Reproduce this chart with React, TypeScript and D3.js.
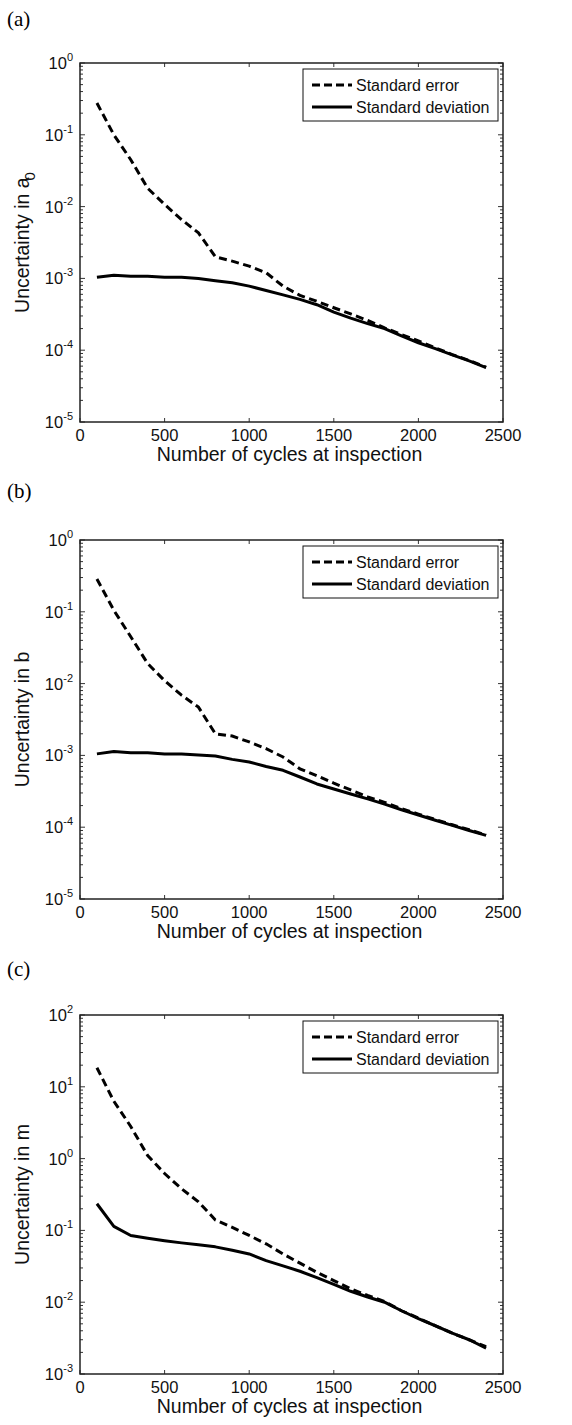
import { useEffect, useRef } from 'react';
import * as d3 from 'd3';

// Inspection cycles (shared by every panel)
const cycles = [
  100, 200, 300, 400, 500, 600, 700, 800, 900, 1000, 1100, 1200,
  1300, 1400, 1500, 1600, 1700, 1800, 1900, 2000, 2100, 2200, 2300, 2400,
];

// (a) uncertainty in a0
const errA0 = [
  0.277, 0.1, 0.045, 0.018, 0.0107, 0.0066, 0.0043, 0.002, 0.00174, 0.00148, 0.0012, 0.00078,
  0.00058, 0.00048, 0.00039, 0.00032, 0.00026, 0.000205, 0.000165, 0.000135, 0.000108, 0.000087, 0.000072, 0.000058,
];
const devA0 = [
  0.00104, 0.00111, 0.00107, 0.00107, 0.00104, 0.00104, 0.001, 0.00093, 0.00087, 0.00078, 0.00068, 0.00059,
  0.00051, 0.00043, 0.00034, 0.00028, 0.000235, 0.0002, 0.000158, 0.000127, 0.000105, 0.000086, 0.000071, 0.000057,
];

// (b) uncertainty in b
const errB = [
  0.286, 0.105, 0.045, 0.019, 0.011, 0.0069, 0.0047, 0.002, 0.00186, 0.00154, 0.00124, 0.00095,
  0.00065, 0.00052, 0.00041, 0.00033, 0.000265, 0.000222, 0.000182, 0.000152, 0.000128, 0.000108, 0.000092, 0.000078,
];
const devB = [
  0.00105, 0.00113, 0.00109, 0.00109, 0.00105, 0.00105, 0.00101, 0.00098, 0.00088, 0.00081, 0.0007, 0.00062,
  0.0005, 0.0004, 0.00034, 0.00029, 0.000248, 0.00021, 0.000175, 0.000148, 0.000125, 0.000106, 0.00009, 0.000077,
];

// (c) uncertainty in m
const errM = [
  18.4, 6.3, 2.8, 1.1, 0.62, 0.38, 0.25, 0.14, 0.11, 0.085, 0.065, 0.047,
  0.035, 0.026, 0.02, 0.0154, 0.0124, 0.0102, 0.0076, 0.006, 0.0047, 0.0037, 0.003, 0.0024,
];
const devM = [
  0.235, 0.114, 0.085, 0.078, 0.072, 0.067, 0.063, 0.059, 0.053, 0.047, 0.038, 0.032,
  0.027, 0.022, 0.0177, 0.0142, 0.0118, 0.01, 0.0076, 0.0059, 0.0047, 0.0037, 0.003, 0.0023,
];

const xTicks = [0, 500, 1000, 1500, 2000, 2500];
const legendLabels = ['Standard error', 'Standard deviation'];

const panels = [
  { tag: '(a)', top: 63, tagY: 26, symbol: 'a', sub: '0', yMin: -5, yMax: 0, err: errA0, dev: devA0 },
  { tag: '(b)', top: 540, tagY: 498, symbol: 'b', sub: '', yMin: -5, yMax: 0, err: errB, dev: devB },
  { tag: '(c)', top: 1015, tagY: 976, symbol: 'm', sub: '', yMin: -3, yMax: 2, err: errM, dev: devM },
];

const WIDTH = 572;
const HEIGHT = 1425;
const left = 80;
const right = 503;
const plotH = 359;
const sans = '"Liberation Sans", Arial, sans-serif';
const serif = '"Liberation Serif", "Times New Roman", serif';

export default function App() {
  const svgRef = useRef<SVGSVGElement>(null);

  useEffect(() => {
    if (!svgRef.current) return;
    const svg = d3.select(svgRef.current);
    svg.selectAll('*').remove();

    svg.append('rect').attr('width', WIDTH).attr('height', HEIGHT).attr('fill', '#fff');

    const xScale = d3.scaleLinear().domain([0, 2500]).range([left, right]);

    panels.forEach((p) => {
      const top = p.top;
      const bottom = top + plotH;
      const yScale = d3
        .scaleLog()
        .domain([Math.pow(10, p.yMin), Math.pow(10, p.yMax)])
        .range([bottom, top]);

      const g = svg.append('g');

      // panel tag
      g.append('text')
        .attr('x', 7)
        .attr('y', p.tagY)
        .attr('font-family', serif)
        .attr('font-size', 21)
        .attr('fill', '#000')
        .text(p.tag);

      // minor + major y ticks (left and right, inward)
      const ticks = g.append('g').attr('stroke', '#333').attr('stroke-width', 1);
      for (let e = p.yMin; e < p.yMax; e++) {
        for (let k = 2; k <= 9; k++) {
          const y = yScale(k * Math.pow(10, e));
          ticks.append('line').attr('x1', left).attr('x2', left + 3).attr('y1', y).attr('y2', y);
          ticks.append('line').attr('x1', right).attr('x2', right - 3).attr('y1', y).attr('y2', y);
        }
      }
      for (let e = p.yMin; e <= p.yMax; e++) {
        const y = yScale(Math.pow(10, e));
        ticks.append('line').attr('x1', left).attr('x2', left + 5).attr('y1', y).attr('y2', y);
        ticks.append('line').attr('x1', right).attr('x2', right - 5).attr('y1', y).attr('y2', y);
        const label = g
          .append('text')
          .attr('x', left - 7)
          .attr('y', y + 6)
          .attr('text-anchor', 'end')
          .attr('font-family', sans)
          .attr('font-size', 16.5)
          .attr('fill', '#111');
        label.append('tspan').text('10');
        label.append('tspan').attr('dy', -8).attr('font-size', 11).text(String(e));
      }

      // x ticks top and bottom
      xTicks.forEach((t) => {
        const x = xScale(t);
        ticks.append('line').attr('x1', x).attr('x2', x).attr('y1', bottom).attr('y2', bottom - 4);
        ticks.append('line').attr('x1', x).attr('x2', x).attr('y1', top).attr('y2', top + 4);
        g.append('text')
          .attr('x', x)
          .attr('y', bottom + 19)
          .attr('text-anchor', 'middle')
          .attr('font-family', sans)
          .attr('font-size', 16.5)
          .attr('fill', '#111')
          .text(t);
      });

      // frame
      g.append('rect')
        .attr('x', left)
        .attr('y', top)
        .attr('width', right - left)
        .attr('height', plotH)
        .attr('fill', 'none')
        .attr('stroke', '#222')
        .attr('stroke-width', 1.5);

      // axis labels
      g.append('text')
        .attr('x', (left + right) / 2 - 2)
        .attr('y', bottom + 39)
        .attr('text-anchor', 'middle')
        .attr('font-family', sans)
        .attr('font-size', 19.5)
        .attr('fill', '#111')
        .text('Number of cycles at inspection');

      const yl = g
        .append('text')
        .attr('transform', `translate(29,${(top + bottom) / 2}) rotate(-90)`)
        .attr('text-anchor', 'middle')
        .attr('font-family', sans)
        .attr('font-size', 19.5)
        .attr('fill', '#111');
      yl.append('tspan').text(`Uncertainty in ${p.symbol}`);
      if (p.sub) {
        yl.append('tspan').attr('dx', -3).attr('dy', 6).attr('font-size', 15).text(p.sub);
      }

      // curves
      const line = d3
        .line<number>()
        .x((_, i) => xScale(cycles[i]))
        .y((d) => yScale(d));

      g.append('path')
        .datum(p.dev)
        .attr('fill', 'none')
        .attr('stroke', '#000')
        .attr('stroke-width', 3)
        .attr('stroke-linejoin', 'round')
        .attr('d', line);

      g.append('path')
        .datum(p.err)
        .attr('fill', 'none')
        .attr('stroke', '#000')
        .attr('stroke-width', 3)
        .attr('stroke-dasharray', '8,4.5')
        .attr('d', line);

      // legend
      const lg = g.append('g').attr('transform', `translate(303,${top + 6})`);
      lg.append('rect')
        .attr('width', 195)
        .attr('height', 52)
        .attr('fill', '#fff')
        .attr('stroke', '#111')
        .attr('stroke-width', 1);
      legendLabels.forEach((name, i) => {
        const y = 16 + i * 22;
        lg.append('line')
          .attr('x1', 9)
          .attr('x2', 49)
          .attr('y1', y)
          .attr('y2', y)
          .attr('stroke', '#000')
          .attr('stroke-width', 3)
          .attr('stroke-dasharray', i === 0 ? '8,4' : null);
        lg.append('text')
          .attr('x', 53)
          .attr('y', y + 6)
          .attr('font-family', sans)
          .attr('font-size', 16)
          .attr('fill', '#111')
          .text(name);
      });
    });
  }, []);

  return (
    <svg
      ref={svgRef}
      width={WIDTH}
      height={HEIGHT}
      style={{ position: 'absolute', left: 0, top: 0 }}
    />
  );
}
